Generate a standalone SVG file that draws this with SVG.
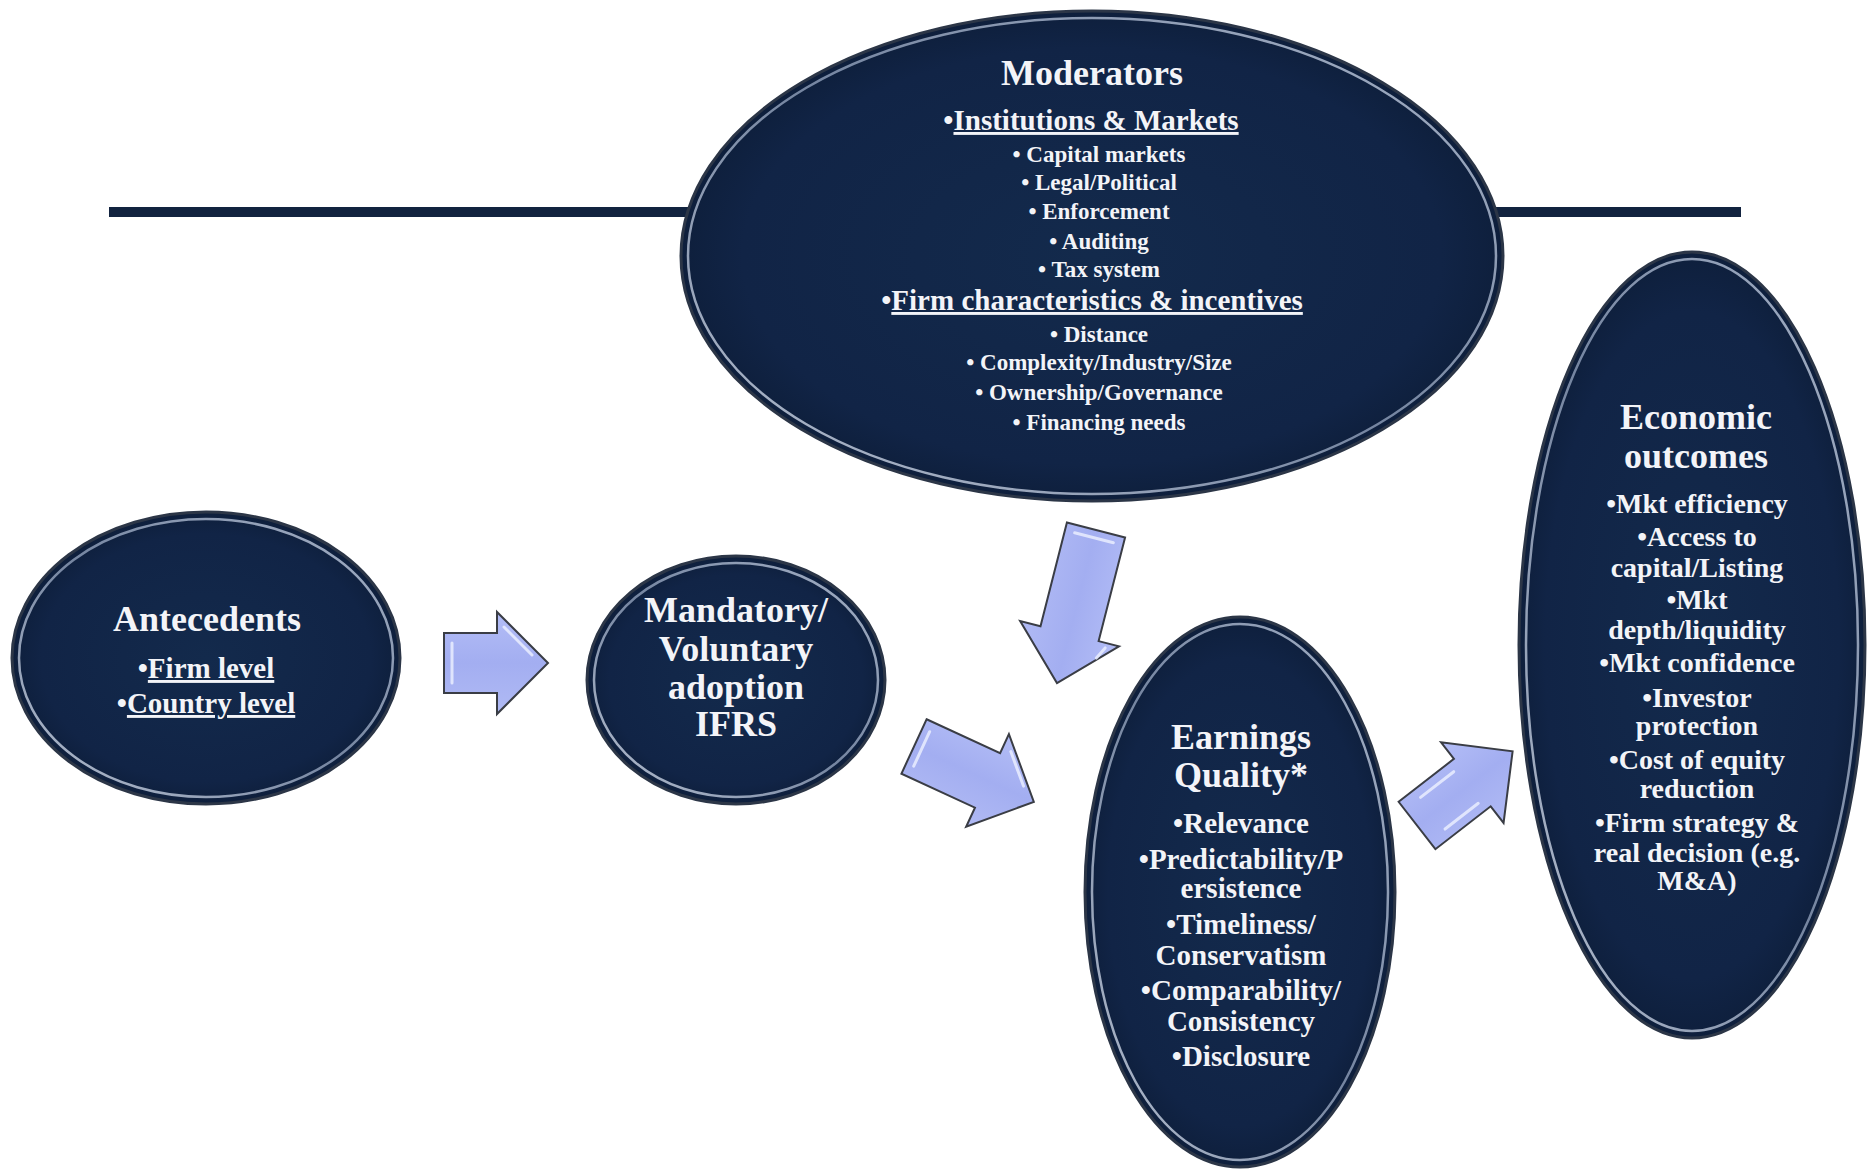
<svg xmlns="http://www.w3.org/2000/svg" width="1867" height="1169" viewBox="0 0 1867 1169">
<defs>
<radialGradient id="gFill" cx="50%" cy="50%" r="50%">
<stop offset="0%" stop-color="#132a4c"/>
<stop offset="85%" stop-color="#112446"/>
<stop offset="100%" stop-color="#0e1f3c"/>
</radialGradient>
<linearGradient id="gRim" x1="0" y1="1" x2="1" y2="0">
<stop offset="0%" stop-color="#d4dcea"/>
<stop offset="50%" stop-color="#8797b2"/>
<stop offset="100%" stop-color="#c2cde0"/>
</linearGradient>
<linearGradient id="gArrow" x1="0" y1="0" x2="0" y2="1">
<stop offset="0%" stop-color="#b3bdf6"/>
<stop offset="50%" stop-color="#a3aef1"/>
<stop offset="100%" stop-color="#b0baf4"/>
</linearGradient>
</defs>
<style>
.body{fill:url(#gFill);stroke:#2c3647;stroke-width:3}
.rim{fill:none;stroke:url(#gRim);stroke-width:2.5;opacity:0.85}
.t{font-family:"Liberation Serif","Times New Roman",serif;font-weight:bold;fill:#f3f4f8;text-anchor:middle}
.h{font-size:36px}
.s{font-size:29px}
.m{font-size:23px}
.e{font-size:28px}
.u{text-decoration:underline}
.arrow{fill:url(#gArrow);stroke:#3a3d45;stroke-width:2;stroke-linejoin:miter}
.hl{fill:none;stroke:#eef1ff;stroke-width:3;stroke-linecap:round;opacity:0.8}
</style>
<rect width="1867" height="1169" fill="#ffffff"/>
<rect x="109" y="207" width="1632" height="10" fill="#12233f"/>

<g id="connectors">
<g transform="translate(444,663)">
<path class="arrow" d="M0,-30 H53 V-51 L104,0 L53,51 V30 H0 Z"/>
<path class="hl" d="M8,-20 V20 M60,-36 L88,-8"/>
</g>
<g transform="translate(1096,530) rotate(104.3)">
<path class="arrow" d="M0,-30 H107 V-51 L158,0 L107,51 V30 H0 Z"/>
<path class="hl" d="M8,-20 V20 M112,-38 L124,-32"/>
</g>
<g transform="translate(914,746.5) rotate(24.8)">
<path class="arrow" d="M0,-30 H81 V-51 L132,0 L81,51 V30 H0 Z"/>
<path class="hl" d="M8,-20 V18 M90,-36 L116,-10"/>
</g>
<g transform="translate(1417,825.5) rotate(-37.8)">
<path class="arrow" d="M0,-30 H70 V-51 L121,0 L70,51 V30 H0 Z"/>
<path class="hl" d="M20,-20 H62 M20,20 H62"/>
</g>
</g>

<g id="moderators">
<ellipse class="body" cx="1092" cy="256" rx="411" ry="245"/>
<ellipse class="rim" cx="1092" cy="256" rx="404" ry="238"/>
<text class="t h" x="1092" y="85">Moderators</text>
<text class="t s" x="1091" y="130">•<tspan class="u">Institutions &amp; Markets</tspan></text>
<text class="t m" x="1099" y="162">• Capital markets</text>
<text class="t m" x="1099" y="190">• Legal/Political</text>
<text class="t m" x="1099" y="219">• Enforcement</text>
<text class="t m" x="1099" y="249">• Auditing</text>
<text class="t m" x="1099" y="277">• Tax system</text>
<text class="t s" x="1092" y="310">•<tspan class="u">Firm characteristics &amp; incentives</tspan></text>
<text class="t m" x="1099" y="342">• Distance</text>
<text class="t m" x="1099" y="370">• Complexity/Industry/Size</text>
<text class="t m" x="1099" y="400">• Ownership/Governance</text>
<text class="t m" x="1099" y="430">• Financing needs</text>
</g>

<g id="antecedents">
<ellipse class="body" cx="206" cy="658" rx="194" ry="146"/>
<ellipse class="rim" cx="206" cy="658" rx="187" ry="139"/>
<text class="t h" x="207" y="631">Antecedents</text>
<text class="t s" x="206" y="678">•<tspan class="u">Firm level</tspan></text>
<text class="t s" x="206" y="713">•<tspan class="u">Country level</tspan></text>
</g>

<g id="adoption">
<ellipse class="body" cx="736" cy="680" rx="149" ry="124"/>
<ellipse class="rim" cx="736" cy="680" rx="142" ry="117"/>
<text class="t h" x="736" y="622">Mandatory/</text>
<text class="t h" x="736" y="661">Voluntary</text>
<text class="t h" x="736" y="699">adoption</text>
<text class="t h" x="736" y="736">IFRS</text>
</g>

<g id="earnings">
<ellipse class="body" cx="1240" cy="892" rx="155" ry="275"/>
<ellipse class="rim" cx="1240" cy="892" rx="148" ry="268"/>
<text class="t h" x="1241" y="749">Earnings</text>
<text class="t h" x="1241" y="787">Quality*</text>
<text class="t s" x="1241" y="833">•Relevance</text>
<text class="t s" x="1241" y="869">•Predictability/P</text>
<text class="t s" x="1241" y="898">ersistence</text>
<text class="t s" x="1241" y="934">•Timeliness/</text>
<text class="t s" x="1241" y="965">Conservatism</text>
<text class="t s" x="1241" y="1000">•Comparability/</text>
<text class="t s" x="1241" y="1031">Consistency</text>
<text class="t s" x="1241" y="1066">•Disclosure</text>
</g>

<g id="economic">
<ellipse class="body" cx="1692" cy="645" rx="173" ry="393"/>
<ellipse class="rim" cx="1692" cy="645" rx="166" ry="386"/>
<text class="t h" x="1696" y="429">Economic</text>
<text class="t h" x="1696" y="468">outcomes</text>
<text class="t e" x="1697" y="513">•Mkt efficiency</text>
<text class="t e" x="1697" y="546">•Access to</text>
<text class="t e" x="1697" y="577">capital/Listing</text>
<text class="t e" x="1697" y="609">•Mkt</text>
<text class="t e" x="1697" y="639">depth/liquidity</text>
<text class="t e" x="1697" y="672">•Mkt confidence</text>
<text class="t e" x="1697" y="707">•Investor</text>
<text class="t e" x="1697" y="735">protection</text>
<text class="t e" x="1697" y="769">•Cost of equity</text>
<text class="t e" x="1697" y="798">reduction</text>
<text class="t e" x="1697" y="832">•Firm strategy &amp;</text>
<text class="t e" x="1697" y="862">real decision (e.g.</text>
<text class="t e" x="1697" y="890">M&amp;A)</text>
</g>
</svg>
